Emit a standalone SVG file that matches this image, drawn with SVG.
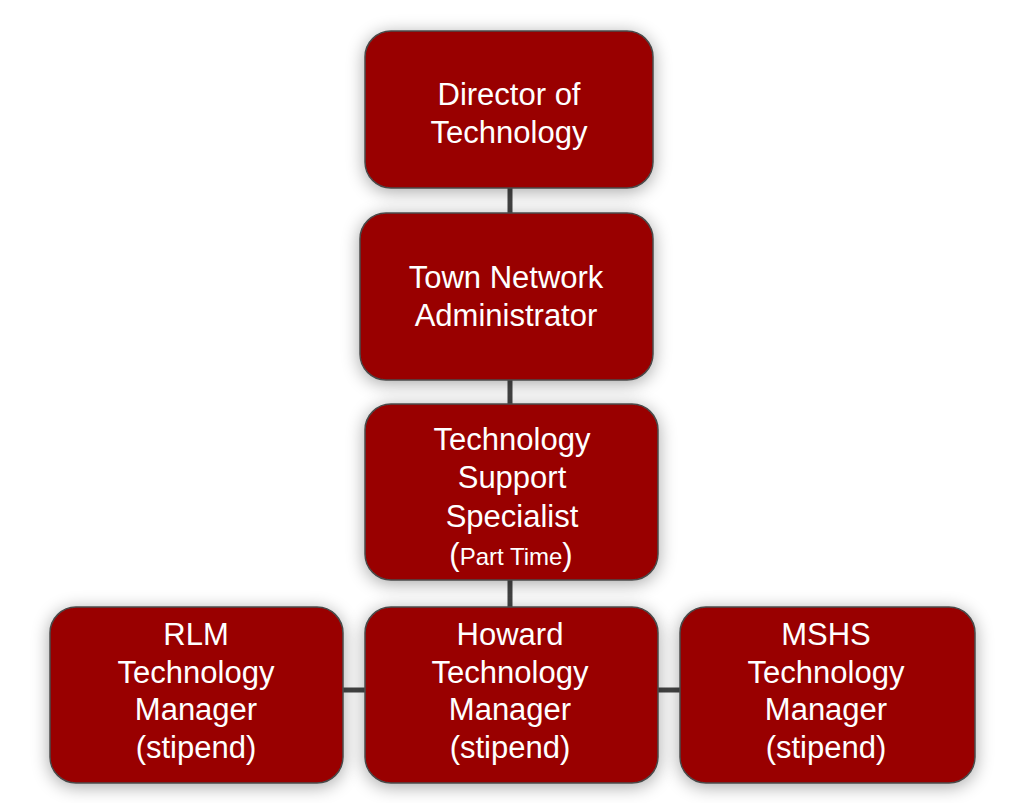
<svg xmlns="http://www.w3.org/2000/svg" width="1020" height="803" viewBox="0 0 1020 803">
  <defs>
    <filter id="shadow" x="-25%" y="-25%" width="150%" height="150%">
      <feGaussianBlur in="SourceAlpha" stdDeviation="9"/>
      <feOffset dx="0" dy="3" result="blur"/>
      <feComponentTransfer><feFuncA type="linear" slope="0.35"/></feComponentTransfer>
      <feMerge><feMergeNode/><feMergeNode in="SourceGraphic"/></feMerge>
    </filter>
  </defs>
  <style>
    .box { fill: #990000; stroke: #4a4a4a; stroke-width: 1.5; filter: url(#shadow); }
    .label { fill: #ffffff; font-family: "Liberation Sans", Arial, sans-serif; font-size: 31px; text-anchor: middle; }
    .small { font-size: 24px; }
    .link { stroke: #444444; stroke-width: 5; fill: none; }
  </style>
  <rect width="1020" height="803" fill="#ffffff"/>

  <g id="connectors">
    <line class="link" x1="510" y1="186" x2="510" y2="610"/>
    <line class="link" x1="341" y1="690" x2="682" y2="690"/>
  </g>

  <g id="director">
    <rect class="box" x="365" y="31" width="288" height="157" rx="26"/>
    <text class="label" x="509" y="105">Director of</text>
    <text class="label" x="509" y="143">Technology</text>
  </g>

  <g id="network-admin">
    <rect class="box" x="360" y="213" width="293" height="167" rx="26"/>
    <text class="label" x="506" y="288">Town Network</text>
    <text class="label" x="506" y="326">Administrator</text>
  </g>

  <g id="support-specialist">
    <rect class="box" x="365" y="404" width="293" height="176" rx="26"/>
    <text class="label" x="512" y="450">Technology</text>
    <text class="label" x="512" y="488">Support</text>
    <text class="label" x="512" y="527">Specialist</text>
    <text class="label" x="511" y="565">(<tspan class="small">Part Time</tspan>)</text>
  </g>

  <g id="rlm-manager">
    <rect class="box" x="50" y="607" width="293" height="176" rx="26"/>
    <text class="label" x="196" y="645">RLM</text>
    <text class="label" x="196" y="683">Technology</text>
    <text class="label" x="196" y="720">Manager</text>
    <text class="label" x="196" y="758">(stipend)</text>
  </g>

  <g id="howard-manager">
    <rect class="box" x="365" y="607" width="293" height="176" rx="26"/>
    <text class="label" x="510" y="645">Howard</text>
    <text class="label" x="510" y="683">Technology</text>
    <text class="label" x="510" y="720">Manager</text>
    <text class="label" x="510" y="758">(stipend)</text>
  </g>

  <g id="mshs-manager">
    <rect class="box" x="680" y="607" width="295" height="176" rx="26"/>
    <text class="label" x="826" y="645">MSHS</text>
    <text class="label" x="826" y="683">Technology</text>
    <text class="label" x="826" y="720">Manager</text>
    <text class="label" x="826" y="758">(stipend)</text>
  </g>
</svg>
